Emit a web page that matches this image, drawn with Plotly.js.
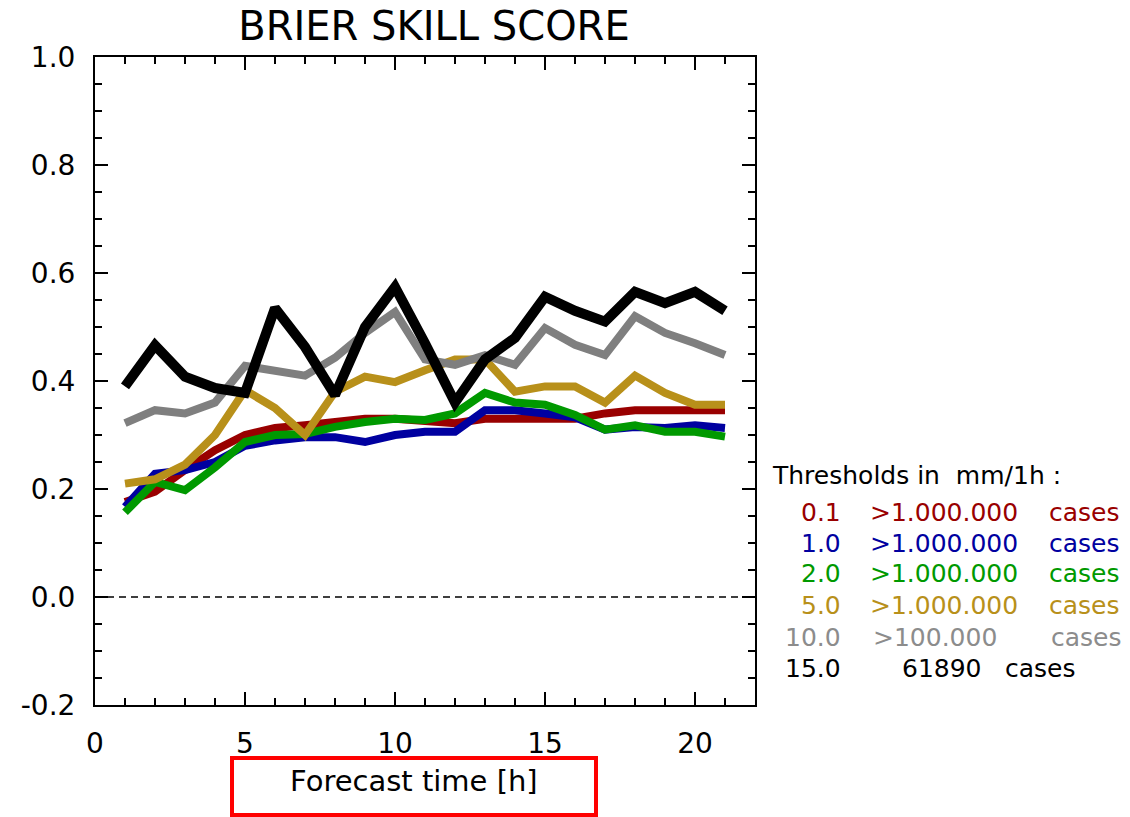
<!DOCTYPE html>
<html>
<head>
<meta charset="utf-8">
<script src="https://cdn.plot.ly/plotly-3.0.1.min.js"></script>
<style>
html,body{margin:0;padding:0;background:#fff;}
#chart{width:1130px;height:817px;}
</style>
</head>
<body>
<div id="chart"></div>
<script>
// Forecast hours
const hours = [1,2,3,4,5,6,7,8,9,10,11,12,13,14,15,16,17,18,19,20,21];

// Brier skill score per threshold
const bss_0_1  = [0.176,0.195,0.235,0.272,0.300,0.313,0.318,0.324,0.330,0.330,0.325,0.322,0.330,0.330,0.330,0.330,0.340,0.346,0.346,0.346,0.346];
const bss_1_0  = [0.167,0.228,0.235,0.250,0.280,0.290,0.296,0.296,0.287,0.300,0.306,0.306,0.346,0.346,0.340,0.333,0.310,0.315,0.313,0.318,0.313];
const bss_2_0  = [0.157,0.213,0.198,0.240,0.287,0.300,0.302,0.315,0.324,0.330,0.328,0.340,0.378,0.360,0.356,0.337,0.310,0.318,0.306,0.306,0.297];
const bss_5_0  = [0.210,0.218,0.245,0.300,0.383,0.350,0.300,0.380,0.408,0.398,0.420,0.440,0.440,0.380,0.390,0.390,0.360,0.410,0.378,0.356,0.356];
const bss_10_0 = [0.322,0.346,0.340,0.360,0.428,0.420,0.410,0.443,0.489,0.528,0.440,0.430,0.448,0.430,0.498,0.467,0.448,0.520,0.489,0.470,0.448];
const bss_15_0 = [0.390,0.466,0.408,0.387,0.378,0.535,0.463,0.374,0.500,0.574,0.470,0.360,0.440,0.480,0.556,0.530,0.510,0.565,0.544,0.565,0.530];

const seriesValues = [bss_0_1, bss_1_0, bss_2_0, bss_5_0, bss_10_0, bss_15_0];
const seriesColors = ['#990000','#0000a0','#009900','#b8901a','#7f7f7f','#000000'];
const legendTextColors = ['#990000','#0000a0','#009900','#b8901a','#8c8c8c','#000000'];
const seriesWidths = [8,8,8,8,8,10];

// Legend texts
const legendHeader = 'Thresholds in  mm/1h :';
const legendThresholds = ['0.1','1.0','2.0','5.0','10.0','15.0'];
const legendCounts = ['>1.000.000','>1.000.000','>1.000.000','>1.000.000','>100.000','61890'];
const legendCases = ['cases','cases','cases','cases','cases','cases'];

const xTickVals = [0,5,10,15,20];
const yTickVals = [-0.2,0,0.2,0.4,0.6,0.8,1.0];
const yTickText = ['-0.2','0.0','0.2','0.4','0.6','0.8','1.0'];

const FONT = 'DejaVu Sans, Liberation Sans, sans-serif';

const traces = seriesValues.map((vals,i)=>({
  x: hours, y: vals, type:'scatter', mode:'lines',
  line:{color:seriesColors[i], width:seriesWidths[i]},
  showlegend:false, hoverinfo:'skip'
}));

// plot area in pixels: left 95, right 755, top 57, bottom 705
const L=95, R=755, T=57, B=705;
const px = v => (v-L)/(R-L);
const py = v => (B-v)/(B-T);

const LFS = 25;
const annotations = [];
annotations.push({xref:'paper',yref:'paper',x:px(770),y:py(475),xanchor:'left',yanchor:'middle',
  text:legendHeader,showarrow:false,font:{family:FONT,size:LFS,color:'#000'}});
const rowY = [512,543,573,605,637,668];
const countX = [868,868,868,868,871,900];
const casesX = [1122,1122,1122,1122,1124,1078];
for(let i=0;i<6;i++){
  annotations.push({xref:'paper',yref:'paper',x:px(843),y:py(rowY[i]),xanchor:'right',yanchor:'middle',
    text:legendThresholds[i],showarrow:false,font:{family:FONT,size:LFS,color:legendTextColors[i]}});
  annotations.push({xref:'paper',yref:'paper',x:px(countX[i]),y:py(rowY[i]),xanchor:'left',yanchor:'middle',
    text:legendCounts[i],showarrow:false,font:{family:FONT,size:LFS,color:legendTextColors[i]}});
  annotations.push({xref:'paper',yref:'paper',x:px(casesX[i]),y:py(rowY[i]),xanchor:'right',yanchor:'middle',
    text:legendCases[i],showarrow:false,font:{family:FONT,size:LFS,color:legendTextColors[i]}});
}
// x-axis title inside red box
annotations.push({xref:'paper',yref:'paper',x:px(414),y:py(781),xanchor:'center',yanchor:'middle',
  text:'Forecast time [h]',showarrow:false,font:{family:FONT,size:29,color:'#000'}});

const layout = {
  width:1130, height:817,
  paper_bgcolor:'#fff', plot_bgcolor:'#fff',
  margin:{l:L, r:1130-R, t:T, b:817-B, pad:0},
  title:{text:'BRIER SKILL SCORE', x:(434)/1130, xanchor:'center', y:1-26/817, yanchor:'middle',
    font:{family:FONT,size:40,color:'#000'}},
  xaxis:{range:[0,22], tickmode:'array', tickvals:xTickVals, ticks:'inside', ticklen:13, tickwidth:1.5,
    tickcolor:'#000', showline:true, linecolor:'#000', linewidth:2, mirror:'allticks', showgrid:false, zeroline:false,
    tickfont:{family:FONT,size:28,color:'#000'}, ticklabelstandoff:12,
    minor:{dtick:1, ticks:'inside', ticklen:7, tickwidth:1.5, tickcolor:'#000', showgrid:false}},
  yaxis:{range:[-0.2,1.0], tickmode:'array', tickvals:yTickVals, ticktext:yTickText, ticks:'inside', ticklen:13, tickwidth:1.5,
    tickcolor:'#000', showline:true, linecolor:'#000', linewidth:2, mirror:'allticks', showgrid:false, zeroline:false,
    tickfont:{family:FONT,size:28,color:'#000'}, ticklabelstandoff:12,
    minor:{dtick:0.05, ticks:'inside', ticklen:7, tickwidth:1.5, tickcolor:'#000', showgrid:false}},
  shapes:[
    {type:'line', xref:'paper', yref:'y', x0:0, x1:1, y0:0, y1:0, line:{color:'#000', width:1.5, dash:'7px,5px'}},
    {type:'rect', xref:'paper', yref:'paper', x0:px(232), x1:px(596), y0:py(815), y1:py(758),
      line:{color:'#ff0000', width:4}, fillcolor:'rgba(0,0,0,0)'}
  ],
  annotations:annotations
};

Plotly.newPlot('chart', traces, layout, {displayModeBar:false, staticPlot:true});
</script>
</body>
</html>
